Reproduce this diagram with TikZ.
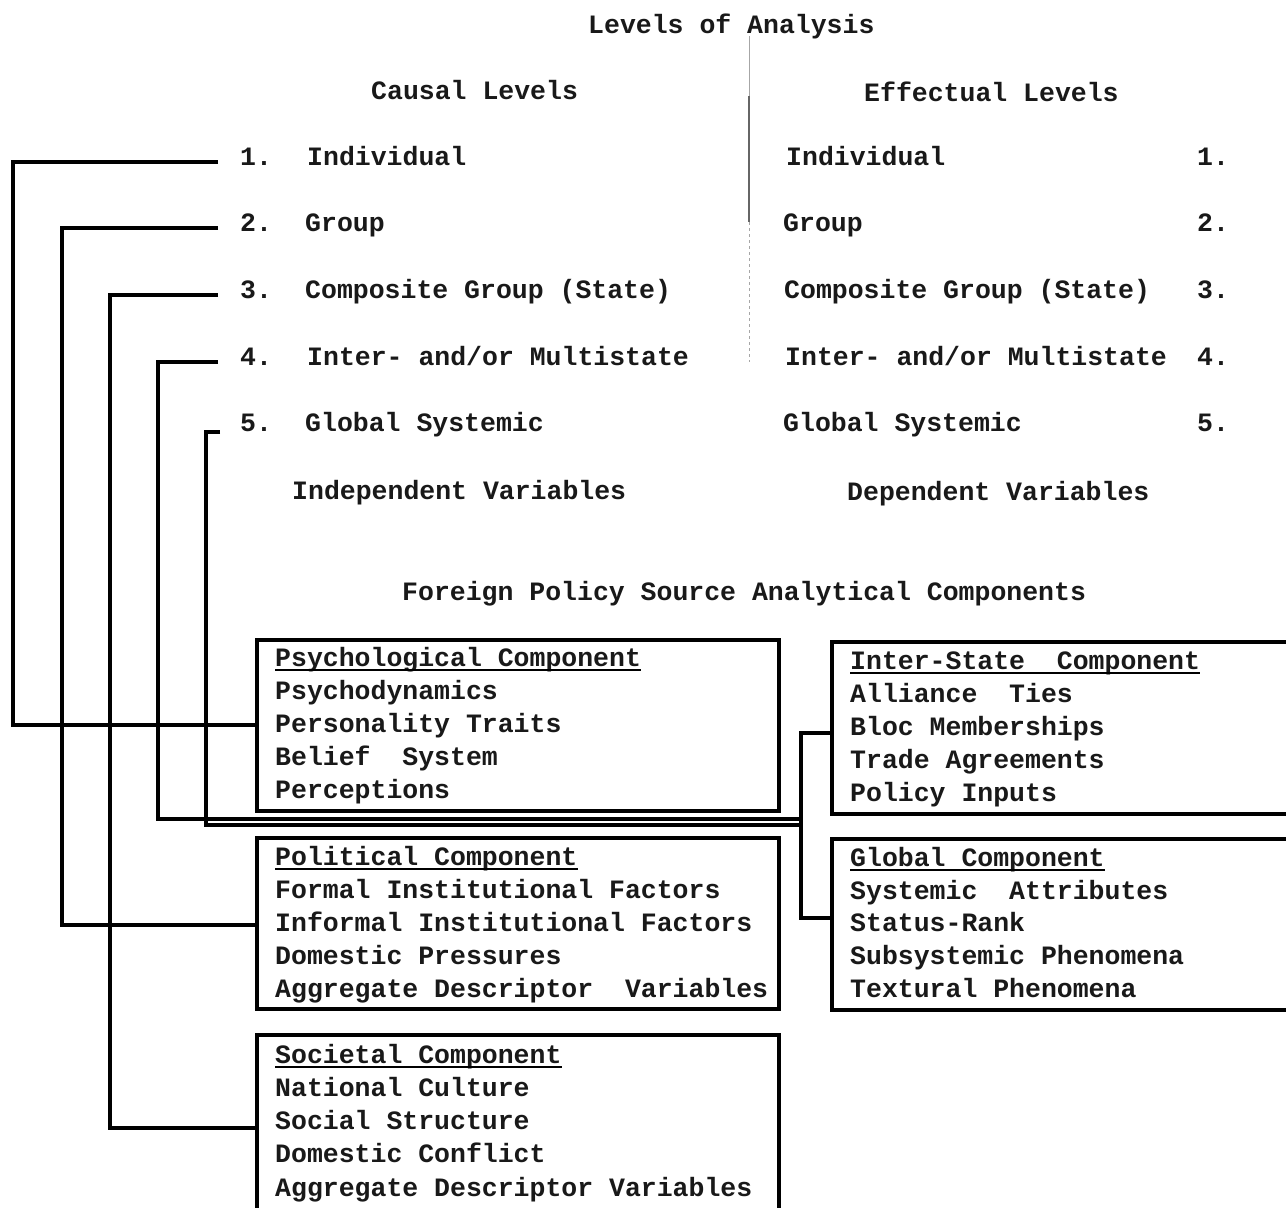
\documentclass[tikz,border=0pt]{standalone}
\usepackage{fontspec}
\setmonofont{Liberation Mono}
\begin{document}
\begin{tikzpicture}[x=1pt,y=-1pt,
  txt/.style={anchor=base west, inner sep=0pt, font=\ttfamily\bfseries\fontsize{26.5}{30}\selectfont, text=black!90},
  box/.style={draw, line width=3.5pt, anchor=north west, inner sep=0pt},
  conn/.style={line width=3.5pt, line join=miter},
  ul/.style={line width=2.5pt},
  scan/.style={line width=1.2pt, black!60}]
\useasboundingbox (0,0) rectangle (1286,1208);
\fill[white] (0,0) rectangle (1286,1208);
\clip (0,0) rectangle (1286,1208);

% faint centre rule
\draw[scan, black!35, line width=0.8pt] (749,36) -- (749,96);
\draw[scan] (749,96) -- (749,222);
\draw[scan, black!35, line width=0.8pt, dashed] (749,222) -- (749,362);

% titles
\node[txt] (title) at (588,33) {Levels of Analysis};
\node[txt] (causal) at (371,99) {Causal Levels};
\node[txt] (effect) at (864,101) {Effectual Levels};

% causal levels
\node[txt] (l1) at (240,165) {1.};
\node[txt] (c1) at (307,165) {Individual};
\node[txt] (l2) at (240,231) {2.};
\node[txt] (c2) at (305,231) {Group};
\node[txt] (l3) at (240,298) {3.};
\node[txt] (c3) at (305,298) {Composite Group (State)};
\node[txt] (l4) at (240,365) {4.};
\node[txt] (c4) at (307,365) {Inter- and/or Multistate};
\node[txt] (l5) at (240,431) {5.};
\node[txt] (c5) at (305,431) {Global Systemic};
\node[txt] (indep) at (292,499) {Independent Variables};

% effectual levels
\node[txt] (e1) at (786,165) {Individual};
\node[txt] (r1) at (1197,165) {1.};
\node[txt] (e2) at (783,231) {Group};
\node[txt] (r2) at (1197,231) {2.};
\node[txt] (e3) at (784,298) {Composite Group (State)};
\node[txt] (r3) at (1197,298) {3.};
\node[txt] (e4) at (785,365) {Inter- and/or Multistate};
\node[txt] (r4) at (1197,365) {4.};
\node[txt] (e5) at (783,431) {Global Systemic};
\node[txt] (r5) at (1197,431) {5.};
\node[txt] (dep) at (847,500) {Dependent Variables};

\node[txt] (fp) at (402,600) {Foreign Policy Source Analytical Components};

% boxes
\node[box, minimum width=522pt, minimum height=171pt] (psych) at (255,638) {};
\node[box, minimum width=522pt, minimum height=171pt] (polit) at (255,836) {};
\node[box, minimum width=522pt, minimum height=190pt] (soc) at (255,1033) {};
\node[box, minimum width=470pt, minimum height=172pt] (inter) at (830,640) {};
\node[box, minimum width=470pt, minimum height=171pt] (glob) at (830,837) {};

% psychological
\node[txt] (h1) at (275,666) {Psychological Component};
\draw[ul] ([yshift=-4pt]h1.base west) -- ([yshift=-4pt]h1.base east);
\node[txt] (p1) at (275,699) {Psychodynamics};
\node[txt] (p2) at (275,732) {Personality Traits};
\node[txt] (p3) at (275,765) {Belief\ \ System};
\node[txt] (p4) at (275,798) {Perceptions};

% political
\node[txt] (h2) at (275,865) {Political Component};
\draw[ul] ([yshift=-4pt]h2.base west) -- ([yshift=-4pt]h2.base east);
\node[txt] (q1) at (275,898) {Formal Institutional Factors};
\node[txt] (q2) at (275,931) {Informal Institutional Factors};
\node[txt] (q3) at (275,964) {Domestic Pressures};
\node[txt] (q4) at (275,997) {Aggregate Descriptor\ \ Variables};

% societal
\node[txt] (h3) at (275,1063) {Societal Component};
\draw[ul] ([yshift=-4pt]h3.base west) -- ([yshift=-4pt]h3.base east);
\node[txt] (s1t) at (275,1096) {National Culture};
\node[txt] (s2t) at (275,1129) {Social Structure};
\node[txt] (s3t) at (275,1162) {Domestic Conflict};
\node[txt] (s4t) at (275,1196) {Aggregate Descriptor Variables};

% inter-state
\node[txt] (h4) at (850,669) {Inter-State\ \ Component};
\draw[ul] ([yshift=-4pt]h4.base west) -- ([yshift=-4pt]h4.base east);
\node[txt] (i1) at (850,702) {Alliance\ \ Ties};
\node[txt] (i2) at (850,735) {Bloc Memberships};
\node[txt] (i3) at (850,768) {Trade Agreements};
\node[txt] (i4) at (850,801) {Policy Inputs};

% global
\node[txt] (h5) at (850,866) {Global Component};
\draw[ul] ([yshift=-4pt]h5.base west) -- ([yshift=-4pt]h5.base east);
\node[txt] (g1) at (850,899) {Systemic\ \ Attributes};
\node[txt] (g2) at (850,931) {Status-Rank};
\node[txt] (g3) at (850,964) {Subsystemic Phenomena};
\node[txt] (g4) at (850,997) {Textural Phenomena};

% connectors
\coordinate (s1) at (218,162);
\coordinate (s2) at (218,228);
\coordinate (s3) at (218,295);
\coordinate (s4) at (218,362);
\coordinate (s5) at (220,432);
\coordinate (mtop) at (801,733);
\coordinate (mbot) at (801,918);

\draw[conn] (s1) -| (13,725) -- (psych.west |- 0,725);
\draw[conn] (s2) -| (62,925) -- (polit.west |- 0,925);
\draw[conn] (s3) -| (110,1128) -- (soc.west |- 0,1128);
\draw[conn] (s4) -| (158,819) -- (mtop |- 0,819);
\draw[conn] (s5) -| (206,825) -- (mtop |- 0,825);
\draw[conn] (inter.west |- mtop) -- (mtop) -- (mbot) -- (glob.west |- mbot);
\end{tikzpicture}
\end{document}
